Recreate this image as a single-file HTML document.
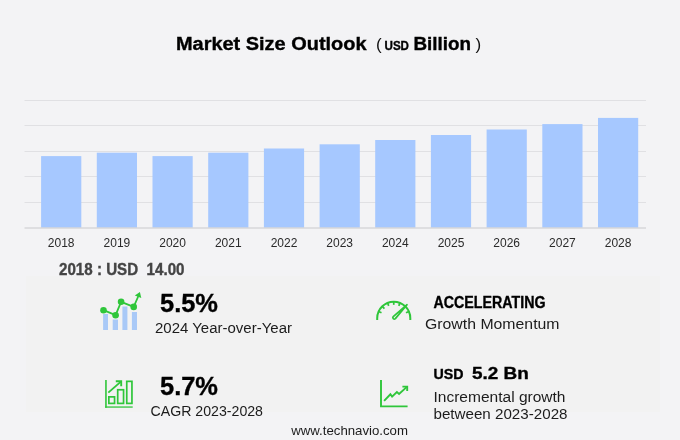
<!DOCTYPE html>
<html><head><meta charset="utf-8"><title>Market Size Outlook</title>
<style>
html,body{margin:0;padding:0;background:#f3f3f5;}
body{width:680px;height:440px;overflow:hidden;}
svg{display:block}
text{font-family:"Liberation Sans","DejaVu Sans",sans-serif;}
.b{font-weight:bold;stroke-width:0.35px;paint-order:stroke}
.k{stroke:#000}.g{stroke:#444}
</style></head><body>
<svg width="680" height="440" viewBox="0 0 680 440">
<rect width="680" height="440" fill="#f3f3f5"/>
<rect x="26" y="276" width="634" height="136" fill="#f2f2f2"/>
<line x1="24.5" x2="646" y1="100.5" y2="100.5" stroke="#e0e0e3" stroke-width="1"/>
<line x1="24.5" x2="646" y1="125.5" y2="125.5" stroke="#e0e0e3" stroke-width="1"/>
<line x1="24.5" x2="646" y1="151.5" y2="151.5" stroke="#e0e0e3" stroke-width="1"/>
<line x1="24.5" x2="646" y1="176.5" y2="176.5" stroke="#e0e0e3" stroke-width="1"/>
<line x1="24.5" x2="646" y1="202.5" y2="202.5" stroke="#e0e0e3" stroke-width="1"/>
<rect x="41.1" y="156.1" width="40.2" height="71.4" fill="#a6c8ff"/>
<rect x="96.8" y="152.7" width="40.2" height="74.8" fill="#a6c8ff"/>
<rect x="152.5" y="156.1" width="40.2" height="71.4" fill="#a6c8ff"/>
<rect x="208.2" y="152.7" width="40.2" height="74.8" fill="#a6c8ff"/>
<rect x="263.9" y="148.5" width="40.2" height="79.0" fill="#a6c8ff"/>
<rect x="319.6" y="144.3" width="40.2" height="83.2" fill="#a6c8ff"/>
<rect x="375.2" y="140" width="40.2" height="87.5" fill="#a6c8ff"/>
<rect x="430.9" y="135" width="40.2" height="92.5" fill="#a6c8ff"/>
<rect x="486.6" y="129.5" width="40.2" height="98.0" fill="#a6c8ff"/>
<rect x="542.3" y="124.1" width="40.2" height="103.4" fill="#a6c8ff"/>
<rect x="598.0" y="117.9" width="40.2" height="109.6" fill="#a6c8ff"/>
<line x1="24.5" x2="646" y1="228" y2="228" stroke="#c9c9cc" stroke-width="1"/>
<text x="61.2" y="247" font-size="12" fill="#2a2a2a" text-anchor="middle">2018</text>
<text x="116.9" y="247" font-size="12" fill="#2a2a2a" text-anchor="middle">2019</text>
<text x="172.6" y="247" font-size="12" fill="#2a2a2a" text-anchor="middle">2020</text>
<text x="228.3" y="247" font-size="12" fill="#2a2a2a" text-anchor="middle">2021</text>
<text x="284.0" y="247" font-size="12" fill="#2a2a2a" text-anchor="middle">2022</text>
<text x="339.7" y="247" font-size="12" fill="#2a2a2a" text-anchor="middle">2023</text>
<text x="395.3" y="247" font-size="12" fill="#2a2a2a" text-anchor="middle">2024</text>
<text x="451.0" y="247" font-size="12" fill="#2a2a2a" text-anchor="middle">2025</text>
<text x="506.7" y="247" font-size="12" fill="#2a2a2a" text-anchor="middle">2026</text>
<text x="562.4" y="247" font-size="12" fill="#2a2a2a" text-anchor="middle">2027</text>
<text x="618.1" y="247" font-size="12" fill="#2a2a2a" text-anchor="middle">2028</text>

<text x="176" y="50" font-size="17.5" class="b k" fill="#000" textLength="190.5" lengthAdjust="spacingAndGlyphs">Market Size Outlook</text>
<text x="376" y="50" font-size="17" fill="#111">(</text>
<text x="384.5" y="50" font-size="12.5" class="b k" fill="#000" textLength="24.5" lengthAdjust="spacingAndGlyphs">USD</text>
<text x="413.5" y="50" font-size="17.5" class="b k" fill="#000" textLength="57.5" lengthAdjust="spacingAndGlyphs">Billion</text>
<text x="475.5" y="50" font-size="17" fill="#111">)</text>

<text x="59" y="275" font-size="15.7" class="b g" fill="#444" textLength="125.5" lengthAdjust="spacingAndGlyphs" xml:space="preserve">2018 : USD  14.00</text>

<text x="160" y="312" font-size="25.4" class="b k" fill="#000" textLength="58" lengthAdjust="spacingAndGlyphs">5.5%</text>
<text x="155" y="333.2" font-size="14.7" fill="#1c1c1c" textLength="137" lengthAdjust="spacingAndGlyphs">2024 Year-over-Year</text>

<text x="160" y="395" font-size="25.4" class="b k" fill="#000" textLength="58" lengthAdjust="spacingAndGlyphs">5.7%</text>
<text x="150.5" y="416.2" font-size="14.7" fill="#1c1c1c" textLength="112.5" lengthAdjust="spacingAndGlyphs">CAGR 2023-2028</text>

<text x="433.5" y="308" font-size="15.8" class="b k" fill="#000" textLength="112" lengthAdjust="spacingAndGlyphs">ACCELERATING</text>
<text x="425" y="328.7" font-size="15.3" fill="#1c1c1c" textLength="134.5" lengthAdjust="spacingAndGlyphs">Growth Momentum</text>

<text x="433.5" y="378.7" font-size="15.4" class="b k" fill="#000" textLength="30" lengthAdjust="spacingAndGlyphs">USD</text>
<text x="472" y="378.7" font-size="16.6" class="b k" fill="#000" textLength="56.7" lengthAdjust="spacingAndGlyphs">5.2 Bn</text>
<text x="433.5" y="401.7" font-size="15.3" fill="#1c1c1c" textLength="132" lengthAdjust="spacingAndGlyphs">Incremental growth</text>
<text x="433.5" y="419.2" font-size="15.3" fill="#1c1c1c" textLength="134" lengthAdjust="spacingAndGlyphs">between 2023-2028</text>

<text x="291.2" y="435" font-size="13.4" fill="#1c1c1c" textLength="116.8" lengthAdjust="spacingAndGlyphs">www.technavio.com</text>

<g id="ic1">
<g fill="#a9c9f7">
<rect x="103.1" y="314" width="4.9" height="16"/>
<rect x="112.7" y="319.5" width="5.3" height="10.5"/>
<rect x="122.4" y="306.5" width="5" height="23.5"/>
<rect x="131.9" y="312" width="5.1" height="18"/>
</g>
<polyline points="103.5,310.2 115.6,315.2 121.1,301.8 133.7,306.9 138.6,295.5" fill="none" stroke="#2fc63a" stroke-width="1.8" stroke-linejoin="round"/>
<g fill="#2fc63a">
<circle cx="103.5" cy="310.2" r="3.3"/>
<circle cx="115.6" cy="315.2" r="3.3"/>
<circle cx="121.1" cy="301.8" r="3.3"/>
<circle cx="133.7" cy="306.9" r="3.3"/>
<polygon points="139.9,291.9 134.8,295.5 141.3,298"/>
</g>
</g>

<g id="ic2" fill="none" stroke="#2fc63a" stroke-width="1.7">
<line x1="105.95" y1="380" x2="105.95" y2="407.7" stroke-width="1.6"/>
<line x1="105.15" y1="407.05" x2="132.7" y2="407.05" stroke-width="1.3"/>
<rect x="108.85" y="396.85" width="5.7" height="6.55"/>
<rect x="117.7" y="389.75" width="5.85" height="13.65"/>
<rect x="126.75" y="381.35" width="5.2" height="22.05"/>
<polyline points="108.3,392.6 120.6,381.9" stroke-width="1.9"/>
<polyline points="115.8,381.2 121.2,381.2 121.2,386.3" stroke-width="1.9"/>
</g>

<g id="ic3" fill="none" stroke="#2fc63a" stroke-width="2">
<path d="M377.2,320 V318.25 A16.55,16.55 0 0 1 410.3,318.25 V320"/>
<g stroke-width="1.7">
<line x1="408.91" y1="311.5" x2="405.99" y2="312.8"/>
<line x1="399.97" y1="302.86" x2="398.77" y2="305.83"/>
<line x1="393.75" y1="301.65" x2="393.75" y2="304.85"/>
<line x1="387.53" y1="302.86" x2="388.73" y2="305.83"/>
<line x1="382.22" y1="306.31" x2="384.44" y2="308.61"/>
<line x1="378.59" y1="311.5" x2="381.51" y2="312.8"/>
</g>
<path d="M407,304.7 L395.35,318.66 A1.5,1.5 0 0 1 393.22,316.56 Z" stroke-width="1.75" stroke-linejoin="round"/>
</g>

<g id="ic4" fill="none" stroke="#2fc63a" stroke-width="1.9">
<polyline points="381,380 381,406.4 407.6,406.4"/>
<polyline points="384.1,400.8 390.4,394.3 392.1,396.6 396.9,392.1 399.05,393.9 406.6,387.1" stroke-linejoin="miter"/>
<polyline points="402.4,386.6 407.2,386.6 407.2,391"/>
</g>
</svg></body></html>
